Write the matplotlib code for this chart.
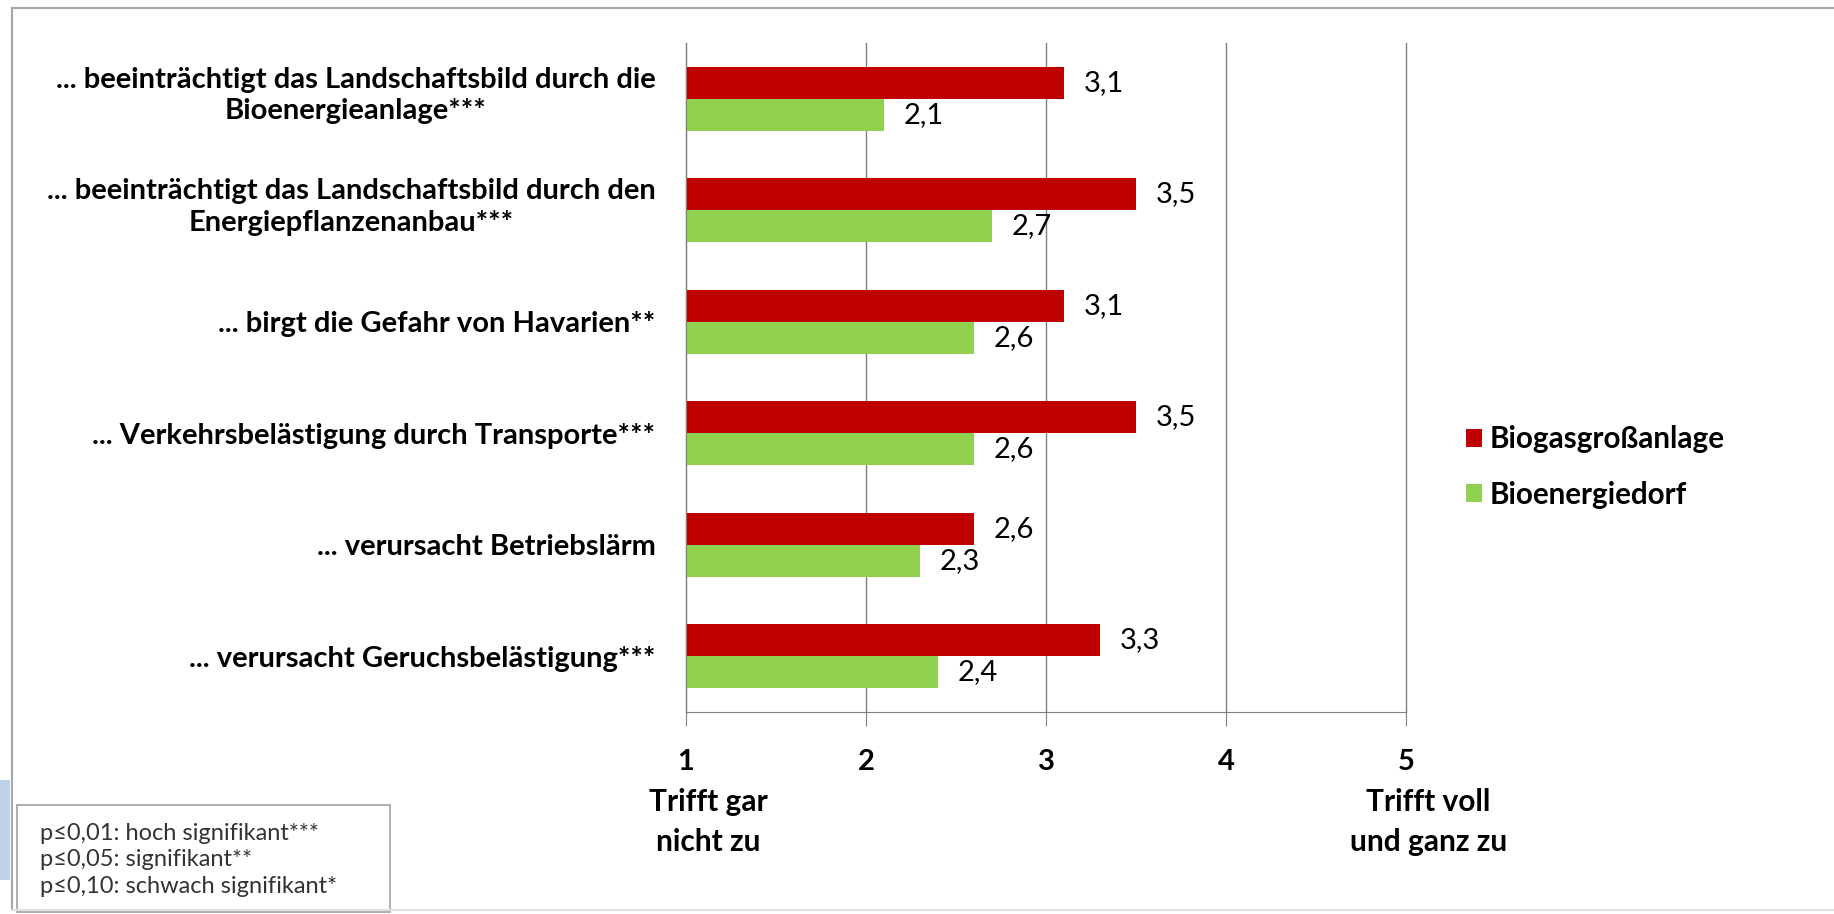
import numpy as np
import matplotlib.pyplot as plt
from matplotlib.patches import Rectangle
from matplotlib.lines import Line2D

plt.rcParams['font.family'] = ['Lato', 'DejaVu Sans']

# Daten
categories = [
    "... beeinträchtigt das Landschaftsbild durch die\nBioenergieanlage***",
    "... beeinträchtigt das Landschaftsbild durch den\nEnergiepflanzenanbau***",
    "... birgt die Gefahr von Havarien**",
    "... Verkehrsbelästigung durch Transporte***",
    "... verursacht Betriebslärm",
    "... verursacht Geruchsbelästigung***",
]
biogas = [3.1, 3.5, 3.1, 3.5, 2.6, 3.3]
dorf = [2.1, 2.7, 2.6, 2.6, 2.3, 2.4]
series_names = ["Biogasgroßanlage", "Bioenergiedorf"]
x_ticks = [1, 2, 3, 4, 5]
x_ticklabels = ["1", "2", "3", "4", "5"]
scale_ends = {1: "Trifft gar\nnicht zu", 5: "Trifft voll\nund ganz zu"}
notes = ["p≤0,01: hoch signifikant***",
         "p≤0,05: signifikant**",
         "p≤0,10: schwach signifikant*"]

W, H = 1834, 914
fs = 21
fig = plt.figure(figsize=(W / 100, H / 100), dpi=100)
ax = fig.add_axes([686 / W, 1 - 712 / H, 720 / W, 669 / H])

y = np.arange(len(categories))
h = 0.285
b1 = ax.barh(y - h / 2, biogas, height=h, color="#C00000", label=series_names[0])
b2 = ax.barh(y + h / 2, dorf, height=h, color="#92D050", label=series_names[1])
for bars, vals in [(b1, biogas), (b2, dorf)]:
    ax.bar_label(bars, labels=[f"{v:.1f}".replace(".", ",") for v in vals],
                 padding=14, fontsize=fs)

ax.set_xlim(1, 5)
ax.set_ylim(len(categories) - 0.5, -0.5)
ax.set_xticks(x_ticks, x_ticklabels, fontsize=fs, fontweight="bold")
ax.set_yticks(y, [])
# Kategorien rechtsbündig, zweizeilige zentriert
for yi, cat in zip(y, categories):
    dy = 6 if "\n" in cat else 0
    ax.annotate(cat, xy=(0, yi), xycoords=("axes fraction", "data"),
                xytext=(-22, dy), textcoords="offset points",
                ha="right", va="center_baseline", multialignment="center",
                fontsize=fs, fontweight="bold", linespacing=1.25)
ax.tick_params(axis="x", length=10, color="#7f7f7f", pad=17)
ax.tick_params(axis="y", length=0)
ax.xaxis.grid(True, color="#7f7f7f", lw=1)
for gl in ax.get_xgridlines():
    gl.set_clip_on(False)
ax.set_axisbelow(True)
for s in ["top", "right"]:
    ax.spines[s].set_visible(False)
for s in ["left", "bottom"]:
    ax.spines[s].set_color("#7f7f7f")

# Skalenbeschriftung unter 1 und 5
for xv, txt in scale_ends.items():
    ax.annotate(txt, xy=(xv, 0), xycoords=("data", "axes fraction"),
                xytext=(16, -55), textcoords="offset points",
                ha="center", va="top", multialignment="center",
                fontsize=21.5, fontweight="bold", linespacing=1.5)

ax.legend(loc="center left", bbox_to_anchor=(1466 / W, 1 - 467 / H),
          bbox_transform=fig.transFigure, frameon=False, borderpad=0, borderaxespad=0,
          prop={"size": 21.3, "weight": "bold"},
          handlelength=0.54, handleheight=0.54, handletextpad=0.27, labelspacing=0.92)

# Rahmen
frame_c = "#a6a6a6"
fig.add_artist(Line2D([12 / W, 12 / W], [1 - 910 / H, 1 - 8 / H], color=frame_c, lw=1.5))
fig.add_artist(Line2D([12 / W, 1], [1 - 8 / H, 1 - 8 / H], color=frame_c, lw=1.5))
fig.add_artist(Line2D([12 / W, 1], [1 - 910 / H, 1 - 910 / H], color="#e0e0e0", lw=1.5))
fig.add_artist(Rectangle((0, 1 - 880 / H), 10 / W, 100 / H, transform=fig.transFigure,
                         color="#bcd2e6", lw=0))

# Signifikanz-Box
fig.add_artist(Rectangle((17 / W, 1 - 912 / H), (390 - 17) / W, (912 - 805) / H,
                         transform=fig.transFigure, fill=False, ec="#a0a0a0", lw=1.2))
fig.text(40 / W, 1 - 860 / H, "\n".join(notes), fontsize=17, color="#333333",
         va="center", ha="left", linespacing=1.33)

fig.savefig("out.png", dpi=100)
